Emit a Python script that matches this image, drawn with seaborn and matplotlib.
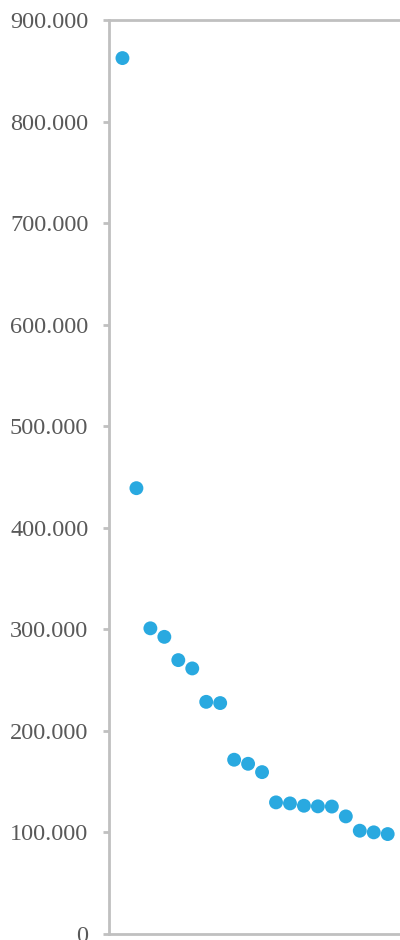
import matplotlib
matplotlib.use("Agg")
import matplotlib.pyplot as plt
import matplotlib.ticker as mticker
import seaborn as sns
import pandas as pd

# Data
ranks = list(range(1, 21))
values = [862500, 439000, 301000, 292600, 269700, 261500, 228600, 227400,
          171600, 167600, 159400, 129600, 128600, 126300, 125700, 125500,
          115800, 101700, 100100, 98400]
y_ticks = [0, 100000, 200000, 300000, 400000, 500000, 600000, 700000, 800000, 900000]

df = pd.DataFrame({"rank": ranks, "value": values})

sns.set_theme(style="white")
plt.rcParams['font.family'] = ['Liberation Serif', 'DejaVu Serif']

fig = plt.figure(figsize=(4.0, 9.4), dpi=100)
ax = fig.add_axes([108.5 / 400, 6 / 940, (400 - 108.5) / 400, 914 / 940])

sns.scatterplot(data=df, x="rank", y="value", ax=ax, color="#29a9e0",
                s=100, edgecolor="none", linewidth=0, legend=False, clip_on=False)

ax.set_ylim(0, 900000)
ax.set_xlim(0, 20 + (400 - 387.7) / 13.95)
ax.set_yticks(y_ticks)
ax.yaxis.set_major_formatter(mticker.FuncFormatter(
    lambda v, p: f"{int(round(v)):,}".replace(",", ".")))
ax.set_xticks([])
ax.set_xlabel("")
ax.set_ylabel("")

spine_color = "#c0c0c0"
for side in ["left", "bottom", "top"]:
    ax.spines[side].set_visible(True)
    ax.spines[side].set_color(spine_color)
    ax.spines[side].set_linewidth(2.0)
ax.spines["right"].set_visible(False)

ax.tick_params(axis="y", which="major", left=True, length=4.5, width=2.0,
               color=spine_color, pad=10, labelsize=17.5, labelcolor="#595959")

fig.savefig("out.png", dpi=100)
